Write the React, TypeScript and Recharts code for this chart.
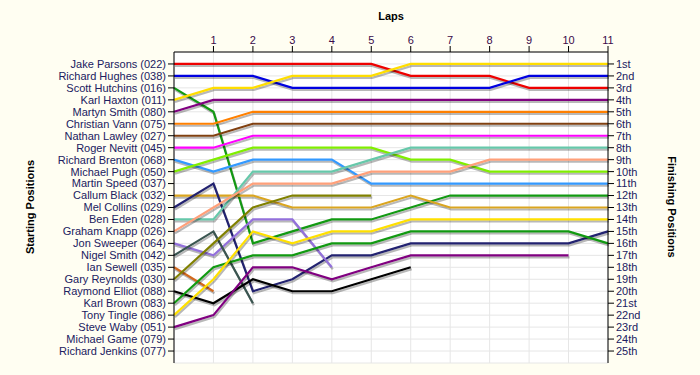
import { CartesianGrid, Line, LineChart, XAxis, YAxis } from "recharts";

// lap chart: position of each driver after every lap

const laps = [0, 1, 2, 3, 4, 5, 6, 7, 8, 9, 10, 11];
const lapTicks = [1, 2, 3, 4, 5, 6, 7, 8, 9, 10, 11];
const positionTicks = Array.from({ length: 25 }, (_, i) => i + 1);

const startNames = [
  "Jake Parsons (022)",
  "Richard Hughes (038)",
  "Scott Hutchins (016)",
  "Karl Haxton (011)",
  "Martyn Smith (080)",
  "Christian Vann (075)",
  "Nathan Lawley (027)",
  "Roger Nevitt (045)",
  "Richard Brenton (068)",
  "Michael Pugh (050)",
  "Martin Speed (037)",
  "Callum Black (032)",
  "Mel Collins (029)",
  "Ben Eden (028)",
  "Graham Knapp (026)",
  "Jon Sweeper (064)",
  "Nigel Smith (042)",
  "Ian Sewell (035)",
  "Gary Reynolds (030)",
  "Raymond Elliot (088)",
  "Karl Brown (083)",
  "Tony Tingle (086)",
  "Steve Waby (051)",
  "Michael Game (079)",
  "Richard Jenkins (077)",
];

const finishLabels = [
  "1st", "2nd", "3rd", "4th", "5th", "6th", "7th", "8th", "9th", "10th",
  "11th", "12th", "13th", "14th", "15th", "16th", "17th", "18th", "19th", "20th",
  "21st", "22nd", "23rd", "24th", "25th",
];

// positions lap 0..11 (null = retired)
const jakeParsons = [1, 1, 1, 1, 1, 1, 2, 2, 2, 3, 3, 3];
const richardHughes = [2, 2, 2, 3, 3, 3, 3, 3, 3, 2, 2, 2];
const scottHutchins = [3, 5, 16, 15, 14, 14, 13, 12, 12, 12, 12, 12];
const karlHaxton = [4, 3, 3, 2, 2, 2, 1, 1, 1, 1, 1, 1];
const martynSmith = [5, 4, 4, 4, 4, 4, 4, 4, 4, 4, 4, 4];
const christianVann = [6, 6, 5, 5, 5, 5, 5, 5, 5, 5, 5, 5];
const nathanLawley = [7, 7, 6, 6, 6, 6, 6, 6, 6, 6, 6, 6];
const rogerNevitt = [8, 8, 7, 7, 7, 7, 7, 7, 7, 7, 7, 7];
const richardBrenton = [9, 10, 9, 9, 9, 11, 11, 11, 11, 11, 11, 11];
const michaelPugh = [10, 9, 8, 8, 8, 8, 9, 9, 10, 10, 10, 10];
const callumBlack = [12, 12, 12, 13, 13, 13, 12, 13, 13, 13, 13, 13];
const melCollins = [13, 11, 20, 19, 17, 17, 16, 16, 16, 16, 16, 15];
const benEden = [14, 14, 10, 10, 10, 9, 8, 8, 8, 8, 8, 8];
const grahamKnapp = [15, 13, 11, 11, 11, 10, 10, 10, 9, 9, 9, 9];
const jonSweeper = [16, 17, 14, 14, 18, null, null, null, null, null, null, null];
const nigelSmith = [17, 15, 21, null, null, null, null, null, null, null, null, null];
const ianSewell = [18, 20, null, null, null, null, null, null, null, null, null, null];
const garyReynolds = [19, 16, 13, 12, 12, 12, null, null, null, null, null, null];
const raymondElliot = [20, 21, 19, 20, 20, 19, 18, null, null, null, null, null];
const karlBrown = [21, 18, 17, 17, 16, 16, 15, 15, 15, 15, 15, 16];
const tonyTingle = [22, 19, 15, 16, 15, 15, 14, 14, 14, 14, 14, 14];
const steveWaby = [23, 22, 18, 18, 19, 18, 17, 17, 17, 17, 17, null];

const series = [
  { key: "jakeParsons", data: jakeParsons, color: "#ee0000" },
  { key: "richardHughes", data: richardHughes, color: "#0000e0" },
  { key: "scottHutchins", data: scottHutchins, color: "#129912" },
  { key: "karlHaxton", data: karlHaxton, color: "#ffdd00" },
  { key: "martynSmith", data: martynSmith, color: "#800080" },
  { key: "christianVann", data: christianVann, color: "#ff8000" },
  { key: "nathanLawley", data: nathanLawley, color: "#804010" },
  { key: "rogerNevitt", data: rogerNevitt, color: "#ff00ff" },
  { key: "richardBrenton", data: richardBrenton, color: "#3399ff" },
  { key: "michaelPugh", data: michaelPugh, color: "#80ee00" },
  { key: "callumBlack", data: callumBlack, color: "#daa520" },
  { key: "melCollins", data: melCollins, color: "#222270" },
  { key: "benEden", data: benEden, color: "#66c8aa" },
  { key: "grahamKnapp", data: grahamKnapp, color: "#ffa07a" },
  { key: "jonSweeper", data: jonSweeper, color: "#9370db" },
  { key: "nigelSmith", data: nigelSmith, color: "#3a5550" },
  { key: "ianSewell", data: ianSewell, color: "#d2691e" },
  { key: "garyReynolds", data: garyReynolds, color: "#808000" },
  { key: "raymondElliot", data: raymondElliot, color: "#000000" },
  { key: "karlBrown", data: karlBrown, color: "#119911" },
  { key: "tonyTingle", data: tonyTingle, color: "#ffe000" },
  { key: "steveWaby", data: steveWaby, color: "#800080" },
];

const chartData = laps.map((lap, i) => {
  const row: Record<string, number | null> = { lap };
  series.forEach((s) => {
    row[s.key] = s.data[i];
  });
  return row;
});

const BG = "#fffef2";
const TICK = { fontSize: 11, fill: "#202060" };

export default function App() {
  return (
    <div
      style={{
        position: "absolute",
        left: 0,
        top: 0,
        width: 700,
        height: 375,
        background: BG,
        fontFamily: "'Liberation Sans', Arial, sans-serif",
      }}
    >
      <style>{".recharts-line-curve{filter:drop-shadow(1px 2px 0px rgba(0,0,0,0.28));}"}</style>
      <LineChart
        width={700}
        height={375}
        data={chartData}
        margin={{ top: 0, right: 0, left: 0, bottom: 12 }}
      >
        <CartesianGrid yAxisId="left" stroke="#e6e6e6" fill="#ffffff" />
        <XAxis
          dataKey="lap"
          type="number"
          orientation="top"
          domain={[0, 11]}
          ticks={lapTicks}
          interval={0}
          height={52}
          stroke="#000"
          tick={{ fontSize: 11, fill: "#3a0a4a" }}
        />
        <YAxis
          yAxisId="left"
          type="number"
          domain={[0, 26]}
          reversed
          ticks={positionTicks}
          interval={0}
          width={174}
          stroke="#000"
          tick={TICK}
          tickFormatter={(v: number) => startNames[v - 1]}
        />
        <YAxis
          yAxisId="right"
          orientation="right"
          type="number"
          domain={[0, 26]}
          reversed
          ticks={positionTicks}
          interval={0}
          width={92}
          stroke="#000"
          tick={TICK}
          tickFormatter={(v: number) => finishLabels[v - 1]}
        />
        {series.map((s, i) => (
          <Line
            key={s.key}
            yAxisId={i % 2 === 0 ? "left" : "right"}
            dataKey={s.key}
            stroke={s.color}
            strokeWidth={2.2}
            dot={false}
            activeDot={false}
            isAnimationActive={false}
          />
        ))}
      </LineChart>
      <div
        style={{
          position: "absolute",
          left: 391,
          top: 10,
          transform: "translateX(-50%)",
          fontSize: 11,
          fontWeight: "bold",
          color: "#000",
        }}
      >
        Laps
      </div>
      <div
        style={{
          position: "absolute",
          left: 30,
          top: 207,
          transform: "translate(-50%, -50%) rotate(-90deg)",
          fontSize: 11,
          fontWeight: "bold",
          whiteSpace: "nowrap",
          color: "#000",
        }}
      >
        Starting Positions
      </div>
      <div
        style={{
          position: "absolute",
          left: 672,
          top: 207,
          transform: "translate(-50%, -50%) rotate(90deg)",
          fontSize: 11,
          fontWeight: "bold",
          whiteSpace: "nowrap",
          color: "#000",
        }}
      >
        Finishing Positions
      </div>
    </div>
  );
}
